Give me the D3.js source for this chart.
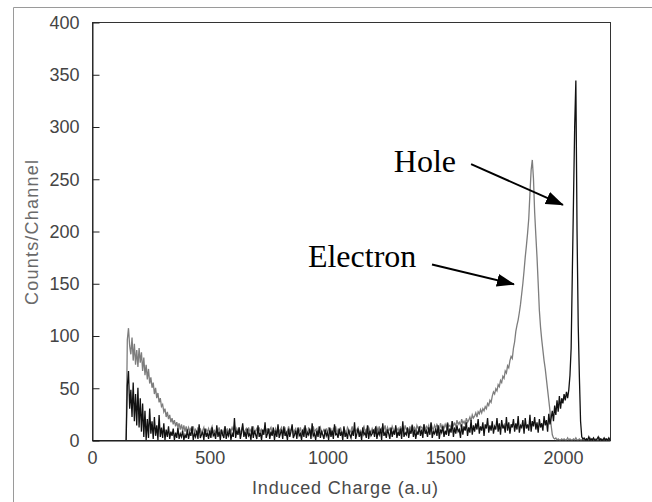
<!DOCTYPE html>
<html>
<head>
<meta charset="utf-8">
<script src="https://cdn.jsdelivr.net/npm/d3@7"></script>
<style>
  html, body { margin: 0; padding: 0; background: #fff; }
</style>
</head>
<body>
<div id="chart"></div>
<script>
const width = 652;
const height = 502;

// channel numbers (step 5), first entry is the empty bin just before the spectrum starts
const channels = d3.range(145, 2201, 5);

// gray trace (electron collection)
const electronCounts = [
  0, 96, 107, 90, 82, 98, 76, 92, 72, 86, 70,
  88, 74, 84, 66, 79, 62, 72, 58, 68, 54, 60, 50, 55, 44, 50, 40, 45, 36, 40, 32,
  34, 27, 30, 22, 27, 20, 24, 17, 21, 15, 19, 13, 17, 12, 16, 10, 15, 9, 14, 8,
  13, 7, 12, 9, 11, 6, 13, 8, 10, 5, 12, 7, 11, 6, 9, 12, 5, 10, 8, 11,
  6, 10, 13, 7, 9, 5, 11, 8, 12, 6, 10, 4, 9, 13, 7, 11, 6, 10, 8, 12,
  9, 14, 6, 11, 8, 12, 5, 10, 13, 7, 9, 11, 6, 12, 8, 10, 5, 13, 7, 9,
  11, 6, 12, 8, 10, 5, 9, 13, 7, 11, 6, 10, 12, 5, 9, 8, 11, 6, 13, 7,
  10, 12, 6, 9, 11, 5, 8, 13, 7, 10, 12, 6, 9, 11, 5, 10, 8, 12, 6, 9,
  11, 7, 10, 5, 12, 8, 9, 6, 13, 7, 10, 11, 5, 9, 12, 6, 8, 10, 7, 11,
  6, 12, 8, 10, 5, 11, 9, 13, 6, 10, 7, 12, 8, 5, 11, 9, 6, 12, 10, 7,
  9, 13, 6, 11, 8, 10, 12, 7, 9, 5, 11, 13, 8, 10, 6, 12, 9, 7, 11, 8,
  10, 6, 12, 9, 13, 7, 11, 8, 10, 14, 6, 12, 9, 11, 7, 13, 10, 8, 12, 9,
  11, 7, 13, 9, 12, 8, 14, 10, 11, 7, 13, 9, 15, 10, 12, 8, 14, 11, 9, 13,
  12, 10, 15, 9, 13, 11, 14, 8, 16, 12, 10, 14, 11, 15, 13, 9, 16, 12, 14, 11,
  15, 12, 17, 13, 14, 11, 18, 14, 16, 13, 19, 15, 17, 14, 20, 16, 18, 15, 21, 17,
  19, 22, 18, 24, 21, 23, 26, 22, 27, 25, 29, 26, 30, 28, 32, 30, 35, 33, 38, 36,
  42, 46, 44, 49, 47, 53, 51, 57, 55, 61, 59, 66, 64, 71, 69, 76, 80, 78, 88, 94,
  104, 110, 115, 122, 130, 140, 150, 162, 175, 186, 198, 212, 236, 258, 268, 250, 218, 196, 175, 150,
  124, 108, 96, 86, 76, 68, 58, 48, 38, 28, 14, 5, 2, 1, 2, 0, 1, 0, 0, 1,
  0, 1, 0, 0, 2, 0, 1, 0, 0, 1, 0, 2, 0, 0, 1, 0, 0, 1, 0, 0,
  1, 0, 0, 2, 0, 1, 0, 0, 1, 0, 0, 2, 0, 1, 0, 0, 1, 0, 0, 1,
  0
];

// black trace (hole collection)
const holeCounts = [
  0, 52, 66, 30, 48, 22, 55, 18, 44, 14, 50,
  12, 40, 8, 35, 3, 28, 0, 20, 2, 30, 6, 18, 1, 22, 4, 14, 0, 24, 3, 12,
  2, 16, 0, 10, 3, 13, 1, 8, 4, 11, 0, 7, 2, 12, 1, 6, 3, 9, 0, 5,
  2, 10, 1, 7, 4, 13, 0, 6, 3, 9, 1, 15, 2, 5, 8, 0, 11, 3, 7, 1,
  9, 2, 12, 4, 6, 1, 14, 3, 8, 0, 10, 5, 2, 13, 1, 7, 4, 11, 0, 6,
  3, 21, 2, 9, 5, 12, 1, 7, 16, 3, 8, 1, 11, 4, 6, 0, 13, 2, 9, 5,
  1, 14, 3, 7, 0, 10, 5, 17, 2, 6, 11, 1, 8, 4, 12, 0, 9, 3, 15, 2,
  6, 10, 1, 13, 4, 7, 0, 11, 3, 8, 15, 2, 5, 9, 1, 12, 4, 6, 0, 10,
  3, 14, 2, 7, 5, 11, 1, 16, 4, 6, 0, 9, 3, 13, 2, 8, 5, 1, 10, 4,
  7, 0, 12, 3, 9, 1, 15, 5, 6, 2, 11, 4, 8, 0, 13, 3, 7, 1, 10, 5,
  2, 9, 4, 17, 1, 6, 11, 3, 8, 0, 12, 5, 7, 2, 14, 1, 9, 4, 6, 10,
  3, 13, 1, 8, 5, 11, 0, 16, 4, 7, 2, 10, 6, 1, 12, 3, 9, 5, 14, 2,
  8, 4, 11, 1, 18, 3, 7, 5, 12, 2, 9, 6, 14, 3, 10, 1, 8, 5, 13, 4,
  10, 2, 15, 6, 9, 3, 12, 5, 17, 2, 8, 6, 11, 4, 14, 1, 10, 7, 13, 3,
  9, 5, 16, 4, 11, 7, 18, 3, 12, 6, 14, 8, 10, 2, 15, 5, 13, 9, 17, 4,
  12, 7, 19, 5, 14, 8, 16, 10, 20, 6, 13, 9, 17, 4, 15, 11, 21, 7, 14, 9,
  18, 6, 13, 10, 21, 8, 16, 5, 19, 11, 14, 7, 22, 9, 17, 6, 15, 12, 20, 8,
  16, 10, 23, 7, 14, 12, 19, 6, 21, 11, 15, 9, 24, 8, 18, 13, 22, 10, 17, 7,
  20, 12, 16, 9, 23, 14, 19, 8, 25, 15, 21, 28, 18, 33, 24, 38, 27, 42, 30, 40,
  35, 44, 38, 46, 40, 48, 62, 88, 160, 230, 300, 344, 200, 110, 60, 18, 3, 1, 2, 0,
  1, 0, 3, 0, 1, 0, 2, 0, 0, 1, 3, 0, 1, 0, 0, 2, 0, 1, 0, 2,
  0
];

const xTicks = [0, 500, 1000, 1500, 2000];
const yTicks = [0, 50, 100, 150, 200, 250, 300, 350, 400];

// annotations: label, label anchor (channel, counts), arrow tail and tip
const notes = [
  { label: "Hole", at: [1282, 256], from: [1610, 264], to: [2000, 225] },
  { label: "Electron", at: [917, 166], from: [1444, 168], to: [1792, 149] }
];

const sans = "'Liberation Sans', Arial, sans-serif";
const serif = "'Liberation Serif', 'Times New Roman', serif";

const svg = d3.select("#chart")
    .append("svg")
    .attr("width", width)
    .attr("height", height);

// outer picture frame (only top and left edges are visible)
svg.append("path")
    .attr("d", "M13.5,502V7.5H652")
    .attr("fill", "none")
    .attr("stroke", "#9a9a9a")
    .attr("stroke-width", 1);

const x = d3.scaleLinear().domain([0, 2200]).range([92, 610]);
const y = d3.scaleLinear().domain([0, 400]).range([440, 22]);

// plot box
svg.append("rect")
    .attr("x", x(0) + 0.5)
    .attr("y", y(400) + 0.5)
    .attr("width", x(2200) - x(0))
    .attr("height", y(0) - y(400))
    .attr("fill", "none")
    .attr("stroke", "#333")
    .attr("stroke-width", 1);

const line = d3.line()
    .x((d, i) => x(channels[i]))
    .y(d => y(d));

svg.append("path")
    .datum(electronCounts)
    .attr("d", line)
    .attr("fill", "none")
    .attr("stroke", "#7d7d7d")
    .attr("stroke-width", 1.3);

svg.append("path")
    .datum(holeCounts)
    .attr("d", line)
    .attr("fill", "none")
    .attr("stroke", "#111")
    .attr("stroke-width", 1.3);

// y axis, ticks pointing inward
const yAxis = svg.append("g")
    .attr("transform", `translate(${x(0) + 0.5},0.5)`)
    .call(d3.axisLeft(y).tickValues(yTicks).tickSizeInner(-7).tickSizeOuter(0).tickPadding(13));
yAxis.select(".domain").attr("stroke", "#222");
yAxis.selectAll(".tick line").attr("stroke", "#222");
yAxis.selectAll(".tick text")
    .style("font-size", "18px")
    .style("font-family", sans)
    .attr("fill", "#444");

// x axis, no tick marks
const xAxis = svg.append("g")
    .attr("transform", `translate(0,${y(0) + 0.5})`)
    .call(d3.axisBottom(x).tickValues(xTicks).tickFormat(d3.format("d")).tickSize(0).tickPadding(11));
xAxis.select(".domain").attr("stroke", "#111");
xAxis.selectAll(".tick text")
    .style("font-size", "18px")
    .style("font-family", sans)
    .attr("fill", "#444");

// axis titles
svg.append("text")
    .attr("x", 252)
    .attr("y", 494)
    .style("font-size", "18px")
    .style("font-family", sans)
    .attr("fill", "#4a4a4a")
    .attr("textLength", 186)
    .attr("lengthAdjust", "spacing")
    .text("Induced Charge (a.u)");

svg.append("text")
    .attr("transform", "translate(38,305) rotate(-90)")
    .style("font-size", "18px")
    .style("font-family", sans)
    .attr("fill", "#6a6a6a")
    .attr("textLength", 145)
    .attr("lengthAdjust", "spacing")
    .text("Counts/Channel");

// arrow head
svg.append("defs").append("marker")
    .attr("id", "head")
    .attr("markerUnits", "userSpaceOnUse")
    .attr("viewBox", "0 -7 18 14")
    .attr("refX", 17)
    .attr("refY", 0)
    .attr("markerWidth", 18)
    .attr("markerHeight", 14)
    .attr("orient", "auto")
  .append("path")
    .attr("d", "M0,-6.5L18,0L0,6.5Z")
    .attr("fill", "#000");

notes.forEach(n => {
    svg.append("text")
        .attr("x", x(n.at[0]))
        .attr("y", y(n.at[1]))
        .style("font-family", serif)
        .style("font-size", "32px")
        .attr("fill", "#000")
        .text(n.label);

    svg.append("line")
        .attr("x1", x(n.from[0]))
        .attr("y1", y(n.from[1]))
        .attr("x2", x(n.to[0]))
        .attr("y2", y(n.to[1]))
        .attr("stroke", "#000")
        .attr("stroke-width", 2)
        .attr("marker-end", "url(#head)");
});
</script>
</body>
</html>
